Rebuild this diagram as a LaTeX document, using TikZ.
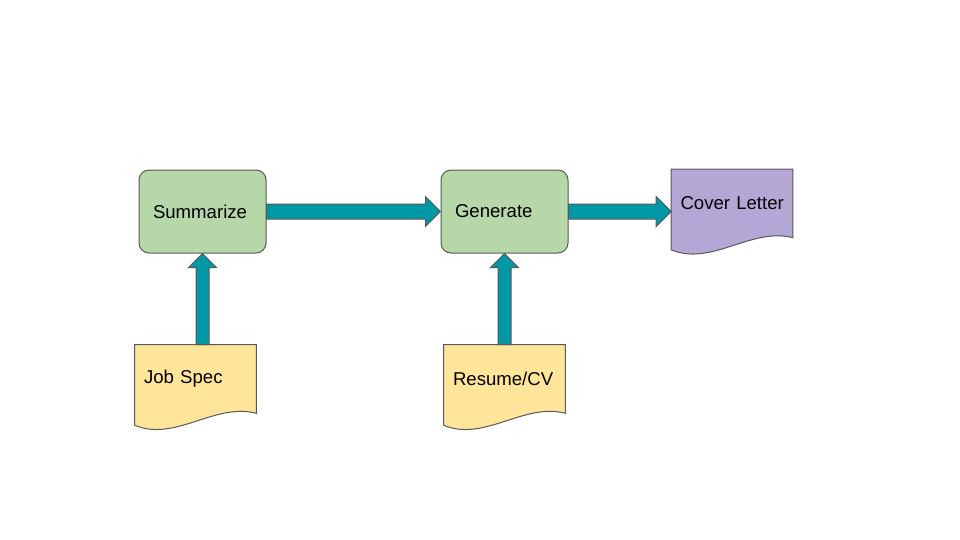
\documentclass[tikz,border=0pt]{standalone}
\usepackage{fontspec}
\setmainfont{Liberation Sans}
\usetikzlibrary{calc,backgrounds}
\definecolor{flowInk}{HTML}{000000}
\definecolor{flowLine}{HTML}{595959}
\definecolor{flowGreen}{HTML}{B6D7A8}
\definecolor{flowYellow}{HTML}{FFE599}
\definecolor{flowPurple}{HTML}{B4A7D6}
\definecolor{flowTeal}{HTML}{0097A7}
\tikzset{
  every picture/.style={font=\fontsize{14}{17}\selectfont, text=flowInk},
  step box/.style={draw=flowLine, line width=0.75bp, rounded corners=7.5bp,
    fill=flowGreen, align=left, text width=74.25bp, inner xsep=10.5bp,
    minimum height=62.25bp},
  doc box/.style={align=left, text width=77.25bp, inner xsep=6.75bp,
    minimum height=51bp, execute at begin node={\hyphenpenalty=10000}},
  doc line/.style={draw=flowLine, line width=0.75bp},
  block arrow/.style={draw=flowLine, line width=0.75bp, fill=flowTeal},
  harrow/.style={block arrow, to path={
    ($(\tikztostart)+(0,-7.5)$) -- ($(\tikztotarget)+(-15,-7.5)$)
    -- ($(\tikztotarget)+(-15,-15)$) -- (\tikztotarget)
    -- ($(\tikztotarget)+(-15,15)$) -- ($(\tikztotarget)+(-15,7.5)$)
    -- ($(\tikztostart)+(0,7.5)$) -- cycle}},
  varrow/.style={block arrow, to path={
    ($(\tikztostart)+(-6.5,0)$) -- ($(\tikztotarget)+(-6.5,14)$)
    -- ($(\tikztotarget)+(-14,14)$) -- (\tikztotarget)
    -- ($(\tikztotarget)+(14,14)$) -- ($(\tikztotarget)+(6.5,14)$)
    -- ($(\tikztostart)+(6.5,0)$) -- cycle}}
}

\begin{document}
\begin{tikzpicture}[x=0.75bp,y=-0.75bp]
  \useasboundingbox (0,0) rectangle (960,540);
  % steps
  \node[step box] (sum) at (202.5,211.5) {Summarize};
  \node[step box] (gen) at (504.5,211.5) {Generate};
  % documents
  \node[doc box] (job) at (195.5,379) {Job Spec};
  \node[doc box] (cv) at (504.5,379) {Resume/CV};
  \node[doc box] (letter) at (732,203.5) {Cover~Letter};
  \begin{scope}[on background layer]
    \foreach \n/\c in {job/flowYellow,cv/flowYellow,letter/flowPurple}
      \filldraw[doc line, fill=\c] (\n.north west) -- (\n.north east) -- (\n.south east)
        .. controls +(-41,-11) and +(40,17) .. ($(\n.south west)+(0,12)$) -- cycle;
  \end{scope}
  % flow
  \draw[harrow] (sum.east) to (gen.west);
  \draw[harrow] (gen.east) to (gen.east -| letter.west);
  \draw[varrow] (sum.south |- job.north) to (sum.south);
  \draw[varrow] (gen.south |- cv.north) to (gen.south);
\end{tikzpicture}
\end{document}
